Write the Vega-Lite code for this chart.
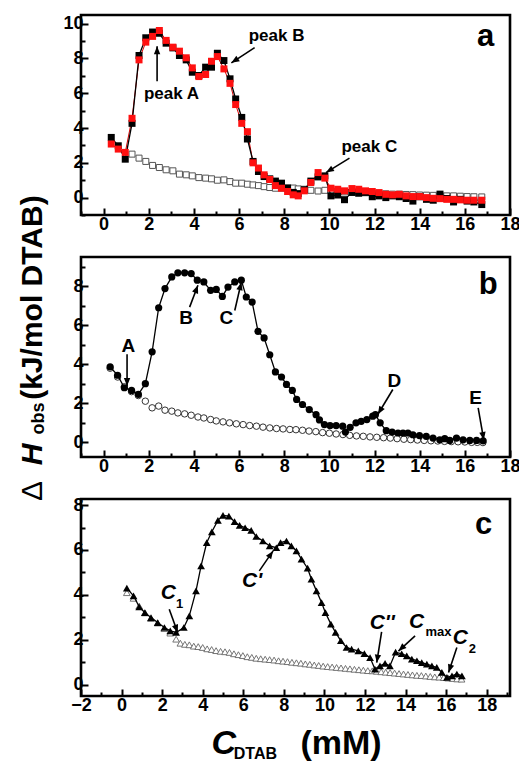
{
  "$schema": "https://vega.github.io/schema/vega-lite/v6.json",
  "padding": {"left": 16, "top": 13, "right": 5, "bottom": 0},
  "spacing": 42,
  "bounds": "flush",
  "config": {
    "view": {"stroke": "black", "strokeWidth": 2.6},
    "font": "Liberation Sans",
    "axis": {"domain": false, "grid": false, "labelFont": "Liberation Sans", "labelFontWeight": "bold", "labelFontSize": 18, "labelColor": "black", "tickColor": "black", "tickWidth": 2, "labelFlush": false, "labelOverlap": false},
    "axisX": {"labelPadding": 7},
    "axisY": {"labelPadding": 5}
  },
  "datasets": {
    "a_black": [{"x":0.34,"y":3.46},{"x":0.65,"y":2.98},{"x":0.96,"y":2.21},{"x":1.26,"y":4.27},{"x":1.57,"y":8.17},{"x":1.87,"y":9.19},{"x":2.17,"y":9.52},{"x":2.47,"y":9.45},{"x":2.77,"y":8.88},{"x":3.07,"y":8.61},{"x":3.36,"y":8.17},{"x":3.66,"y":7.92},{"x":3.93,"y":7.21},{"x":4.22,"y":7.02},{"x":4.52,"y":7.5},{"x":4.78,"y":7.5},{"x":5.04,"y":8.3},{"x":5.33,"y":7.88},{"x":5.6,"y":6.83},{"x":5.85,"y":5.67},{"x":6.12,"y":4.61},{"x":6.37,"y":3.37},{"x":6.62,"y":2.08},{"x":6.86,"y":1.5},{"x":7.11,"y":1.21},{"x":7.36,"y":1.08},{"x":7.61,"y":0.95},{"x":7.88,"y":0.83},{"x":8.15,"y":0.55},{"x":8.4,"y":0.3},{"x":8.62,"y":0.23},{"x":8.89,"y":0.45},{"x":9.18,"y":0.95},{"x":9.5,"y":1.19},{"x":9.8,"y":1.25},{"x":10.07,"y":0.1},{"x":10.37,"y":0.15},{"x":10.67,"y":-0.12},{"x":11.0,"y":0.3},{"x":11.3,"y":0.25},{"x":11.6,"y":0.3},{"x":11.9,"y":0.05},{"x":12.2,"y":0.1},{"x":12.5,"y":0.0},{"x":12.8,"y":0.1},{"x":13.1,"y":0.05},{"x":13.4,"y":-0.05},{"x":13.7,"y":-0.2},{"x":14.0,"y":0.05},{"x":14.3,"y":-0.1},{"x":14.6,"y":-0.15},{"x":14.9,"y":0.2},{"x":15.2,"y":-0.05},{"x":15.5,"y":-0.25},{"x":15.8,"y":-0.1},{"x":16.1,"y":-0.2},{"x":16.4,"y":-0.25},{"x":16.75,"y":-0.4}],
    "a_red": [{"x":0.34,"y":3.08},{"x":0.65,"y":2.79},{"x":0.96,"y":2.6},{"x":1.26,"y":4.56},{"x":1.57,"y":7.92},{"x":1.87,"y":8.94},{"x":2.17,"y":9.27},{"x":2.47,"y":9.61},{"x":2.77,"y":9.04},{"x":3.07,"y":8.65},{"x":3.36,"y":8.42},{"x":3.66,"y":8.04},{"x":3.93,"y":7.46},{"x":4.22,"y":6.96},{"x":4.52,"y":7.08},{"x":4.78,"y":7.84},{"x":5.04,"y":8.11},{"x":5.33,"y":7.4},{"x":5.6,"y":6.57},{"x":5.85,"y":5.35},{"x":6.12,"y":4.27},{"x":6.37,"y":3.79},{"x":6.62,"y":2.0},{"x":6.86,"y":1.7},{"x":7.11,"y":1.31},{"x":7.36,"y":1.04},{"x":7.61,"y":0.69},{"x":7.88,"y":0.54},{"x":8.15,"y":0.35},{"x":8.4,"y":0.16},{"x":8.62,"y":0.1},{"x":8.89,"y":0.39},{"x":9.18,"y":0.87},{"x":9.5,"y":1.44},{"x":9.8,"y":1.12},{"x":10.07,"y":0.54},{"x":10.37,"y":0.48},{"x":10.67,"y":0.39},{"x":11.0,"y":0.52},{"x":11.3,"y":0.48},{"x":11.6,"y":0.39},{"x":11.9,"y":0.35},{"x":12.2,"y":0.29},{"x":12.5,"y":0.19},{"x":12.8,"y":0.16},{"x":13.1,"y":0.19},{"x":13.4,"y":0.1},{"x":13.7,"y":0.06},{"x":14.0,"y":0.06},{"x":14.3,"y":0.0},{"x":14.6,"y":-0.04},{"x":14.9,"y":-0.06},{"x":15.2,"y":-0.1},{"x":15.5,"y":-0.1},{"x":15.8,"y":-0.13},{"x":16.1,"y":-0.15},{"x":16.4,"y":-0.15},{"x":16.75,"y":-0.15}],
    "a_open": [{"x":1.26,"y":2.5},{"x":1.57,"y":2.27},{"x":1.87,"y":2.08},{"x":2.17,"y":1.85},{"x":2.47,"y":1.73},{"x":2.77,"y":1.6},{"x":3.07,"y":1.54},{"x":3.36,"y":1.35},{"x":3.66,"y":1.31},{"x":3.93,"y":1.25},{"x":4.22,"y":1.15},{"x":4.52,"y":1.12},{"x":4.78,"y":1.08},{"x":5.04,"y":1.0},{"x":5.33,"y":1.02},{"x":5.6,"y":0.92},{"x":5.85,"y":0.83},{"x":6.12,"y":0.83},{"x":6.37,"y":0.77},{"x":6.62,"y":0.73},{"x":6.86,"y":0.69},{"x":7.11,"y":0.63},{"x":7.36,"y":0.58},{"x":7.61,"y":0.54},{"x":7.88,"y":0.54},{"x":8.15,"y":0.55},{"x":8.4,"y":0.55},{"x":8.62,"y":0.5},{"x":8.89,"y":0.48},{"x":9.18,"y":0.42},{"x":9.5,"y":0.38},{"x":9.8,"y":0.42},{"x":10.07,"y":0.4},{"x":10.37,"y":0.35},{"x":10.67,"y":0.33},{"x":11.0,"y":0.3},{"x":11.3,"y":0.3},{"x":11.6,"y":0.28},{"x":11.9,"y":0.26},{"x":12.2,"y":0.24},{"x":12.5,"y":0.22},{"x":12.8,"y":0.2},{"x":13.1,"y":0.2},{"x":13.4,"y":0.18},{"x":13.7,"y":0.17},{"x":14.0,"y":0.15},{"x":14.3,"y":0.14},{"x":14.6,"y":0.13},{"x":14.9,"y":0.12},{"x":15.2,"y":0.1},{"x":15.5,"y":0.1},{"x":15.8,"y":0.08},{"x":16.1,"y":0.06},{"x":16.4,"y":0.05},{"x":16.75,"y":0.04}],
    "a_arrows": [{"x":2.37,"y":6.69,"x2":2.37,"y2":8.71},{"x":6.69,"y":8.62,"x2":5.66,"y2":7.75},{"x":10.89,"y":2.27,"x2":9.85,"y2":1.44}],
    "a_text": [{"x":3.01,"y":5.95,"t":"peak A"},{"x":7.66,"y":9.3,"t":"peak B"},{"x":11.77,"y":2.9,"t":"peak C"}],
    "a_letter": [{"x":16.92,"y":9.24,"t":"a"}],
    "b_filled": [{"x":0.29,"y":3.87},{"x":0.62,"y":3.44},{"x":0.92,"y":2.8},{"x":1.24,"y":2.66},{"x":1.54,"y":2.46},{"x":1.85,"y":3.01},{"x":2.15,"y":4.64},{"x":2.44,"y":6.9},{"x":2.72,"y":7.88},{"x":3.02,"y":8.48},{"x":3.29,"y":8.69},{"x":3.59,"y":8.69},{"x":3.88,"y":8.65},{"x":4.15,"y":8.31},{"x":4.44,"y":8.22},{"x":4.74,"y":7.79},{"x":4.99,"y":7.84},{"x":5.26,"y":7.48},{"x":5.51,"y":7.96},{"x":5.81,"y":8.22},{"x":6.1,"y":8.31},{"x":6.32,"y":7.45},{"x":6.58,"y":7.19},{"x":6.84,"y":5.69},{"x":7.11,"y":5.35},{"x":7.36,"y":4.49},{"x":7.61,"y":3.61},{"x":7.88,"y":3.35},{"x":8.1,"y":2.97},{"x":8.36,"y":2.66},{"x":8.55,"y":2.2},{"x":8.81,"y":1.94},{"x":9.11,"y":1.68},{"x":9.41,"y":1.42},{"x":9.56,"y":1.15},{"x":9.78,"y":0.91},{"x":10.03,"y":0.86},{"x":10.3,"y":0.86},{"x":10.59,"y":0.83},{"x":10.71,"y":0.53},{"x":10.92,"y":0.77},{"x":11.18,"y":1.0},{"x":11.41,"y":1.08},{"x":11.66,"y":1.17},{"x":11.92,"y":1.34},{"x":12.04,"y":1.42},{"x":12.25,"y":1.0},{"x":12.52,"y":0.6},{"x":12.78,"y":0.53},{"x":13.04,"y":0.48},{"x":13.26,"y":0.48},{"x":13.48,"y":0.48},{"x":13.7,"y":0.39},{"x":13.99,"y":0.35},{"x":14.29,"y":0.31},{"x":14.59,"y":0.22},{"x":14.89,"y":0.13},{"x":15.11,"y":0.19},{"x":15.33,"y":0.1},{"x":15.63,"y":0.22},{"x":15.92,"y":0.13},{"x":16.22,"y":0.1},{"x":16.52,"y":0.1},{"x":16.81,"y":0.08}],
    "b_open": [{"x":0.29,"y":3.8},{"x":0.62,"y":3.35},{"x":0.92,"y":2.85},{"x":1.24,"y":2.6},{"x":1.54,"y":2.4},{"x":1.85,"y":2.11},{"x":2.15,"y":1.77},{"x":2.44,"y":1.86},{"x":2.72,"y":1.65},{"x":3.02,"y":1.6},{"x":3.29,"y":1.51},{"x":3.59,"y":1.46},{"x":3.88,"y":1.39},{"x":4.18,"y":1.3},{"x":4.44,"y":1.25},{"x":4.74,"y":1.17},{"x":4.99,"y":1.1},{"x":5.29,"y":1.05},{"x":5.58,"y":1.0},{"x":5.88,"y":0.95},{"x":6.18,"y":0.91},{"x":6.47,"y":0.86},{"x":6.77,"y":0.83},{"x":7.06,"y":0.78},{"x":7.36,"y":0.74},{"x":7.66,"y":0.71},{"x":7.95,"y":0.69},{"x":8.25,"y":0.66},{"x":8.52,"y":0.65},{"x":8.81,"y":0.62},{"x":9.1,"y":0.58},{"x":9.4,"y":0.55},{"x":9.7,"y":0.5},{"x":10.0,"y":0.47},{"x":10.3,"y":0.43},{"x":10.6,"y":0.4},{"x":10.9,"y":0.36},{"x":11.2,"y":0.33},{"x":11.5,"y":0.31},{"x":11.8,"y":0.28},{"x":12.1,"y":0.26},{"x":12.4,"y":0.24},{"x":12.7,"y":0.22},{"x":13.0,"y":0.19},{"x":13.3,"y":0.16},{"x":13.6,"y":0.14},{"x":13.9,"y":0.12},{"x":14.2,"y":0.1},{"x":14.5,"y":0.08},{"x":14.8,"y":0.07},{"x":15.1,"y":0.05},{"x":15.4,"y":0.04},{"x":15.7,"y":0.03},{"x":16.0,"y":0.02},{"x":16.3,"y":0.0},{"x":16.55,"y":0.0},{"x":16.8,"y":-0.01}],
    "b_arrows": [{"x":1.04,"y":4.52,"x2":1.04,"y2":2.89},{"x":3.81,"y":6.93,"x2":4.18,"y2":8.05},{"x":5.81,"y":6.76,"x2":6.1,"y2":8.21},{"x":12.81,"y":2.71,"x2":12.15,"y2":1.44},{"x":16.59,"y":1.77,"x2":16.84,"y2":0.12}],
    "b_text": [{"x":1.1,"y":4.95,"t":"A"},{"x":3.66,"y":6.39,"t":"B"},{"x":5.44,"y":6.39,"t":"C"},{"x":12.88,"y":3.16,"t":"D"},{"x":16.48,"y":2.29,"t":"E"}],
    "b_letter": [{"x":17.04,"y":8.09,"t":"b"}],
    "ytitle_main": [{"x":-3.13,"y":7.42,"t":"(kJ/mol DTAB)"}],
    "ytitle_h": [{"x":-3.13,"y":-0.62,"t":"H"}],
    "ytitle_delta": [{"x":-3.13,"y":-2.49,"t":"Δ"}],
    "ytitle_sub": [{"x":-2.86,"y":1.22,"t":"obs"}],
    "c_filled": [{"x":0.26,"y":4.3},{"x":0.59,"y":3.96},{"x":0.87,"y":3.47},{"x":1.15,"y":3.21},{"x":1.45,"y":2.99},{"x":1.78,"y":2.77},{"x":2.11,"y":2.55},{"x":2.4,"y":2.4},{"x":2.69,"y":2.33},{"x":3.07,"y":2.55},{"x":3.34,"y":3.07},{"x":3.67,"y":4.18},{"x":3.92,"y":5.29},{"x":4.2,"y":6.33},{"x":4.45,"y":6.81},{"x":4.75,"y":7.32},{"x":5.0,"y":7.54},{"x":5.29,"y":7.51},{"x":5.57,"y":7.26},{"x":5.82,"y":7.1},{"x":6.09,"y":6.99},{"x":6.39,"y":6.87},{"x":6.64,"y":6.6},{"x":6.97,"y":6.4},{"x":7.3,"y":6.18},{"x":7.63,"y":6.1},{"x":7.84,"y":6.33},{"x":8.13,"y":6.4},{"x":8.37,"y":6.18},{"x":8.62,"y":5.96},{"x":8.87,"y":5.59},{"x":9.17,"y":5.19},{"x":9.36,"y":4.7},{"x":9.61,"y":4.18},{"x":9.86,"y":3.66},{"x":10.05,"y":3.21},{"x":10.32,"y":2.7},{"x":10.55,"y":2.33},{"x":10.81,"y":1.96},{"x":11.09,"y":1.66},{"x":11.34,"y":1.59},{"x":11.67,"y":1.51},{"x":11.97,"y":1.39},{"x":12.25,"y":1.21},{"x":12.49,"y":0.7},{"x":12.74,"y":0.84},{"x":12.99,"y":0.95},{"x":13.23,"y":0.84},{"x":13.51,"y":1.45},{"x":13.81,"y":1.38},{"x":14.06,"y":1.29},{"x":14.31,"y":1.14},{"x":14.56,"y":1.07},{"x":14.8,"y":0.99},{"x":15.05,"y":0.92},{"x":15.3,"y":0.84},{"x":15.54,"y":0.77},{"x":15.79,"y":0.55},{"x":16.04,"y":0.33},{"x":16.29,"y":0.4},{"x":16.53,"y":0.48},{"x":16.78,"y":0.4}],
    "c_open": [{"x":0.26,"y":4.1},{"x":0.59,"y":3.85},{"x":0.87,"y":3.5},{"x":1.15,"y":3.2},{"x":1.45,"y":2.95},{"x":1.78,"y":2.75},{"x":2.11,"y":2.5},{"x":2.4,"y":2.3},{"x":2.69,"y":2.03},{"x":2.9,"y":1.85},{"x":3.12,"y":1.8},{"x":3.34,"y":1.78},{"x":3.56,"y":1.72},{"x":3.78,"y":1.7},{"x":4.0,"y":1.66},{"x":4.22,"y":1.6},{"x":4.44,"y":1.57},{"x":4.66,"y":1.52},{"x":4.88,"y":1.49},{"x":5.1,"y":1.47},{"x":5.32,"y":1.44},{"x":5.54,"y":1.38},{"x":5.76,"y":1.34},{"x":5.98,"y":1.3},{"x":6.2,"y":1.25},{"x":6.42,"y":1.22},{"x":6.64,"y":1.18},{"x":6.86,"y":1.16},{"x":7.08,"y":1.14},{"x":7.3,"y":1.12},{"x":7.52,"y":1.1},{"x":7.74,"y":1.07},{"x":7.96,"y":1.05},{"x":8.18,"y":1.03},{"x":8.4,"y":1.0},{"x":8.62,"y":0.98},{"x":8.84,"y":0.96},{"x":9.06,"y":0.93},{"x":9.28,"y":0.91},{"x":9.5,"y":0.88},{"x":9.72,"y":0.86},{"x":9.94,"y":0.83},{"x":10.16,"y":0.81},{"x":10.38,"y":0.79},{"x":10.6,"y":0.77},{"x":10.82,"y":0.75},{"x":11.04,"y":0.73},{"x":11.26,"y":0.71},{"x":11.48,"y":0.69},{"x":11.7,"y":0.67},{"x":11.92,"y":0.65},{"x":12.14,"y":0.63},{"x":12.36,"y":0.62},{"x":12.58,"y":0.6},{"x":12.8,"y":0.58},{"x":13.02,"y":0.56},{"x":13.24,"y":0.54},{"x":13.46,"y":0.52},{"x":13.68,"y":0.5},{"x":13.9,"y":0.48},{"x":14.12,"y":0.46},{"x":14.34,"y":0.44},{"x":14.56,"y":0.42},{"x":14.78,"y":0.41},{"x":15.0,"y":0.39},{"x":15.22,"y":0.37},{"x":15.44,"y":0.35},{"x":15.66,"y":0.34},{"x":15.88,"y":0.32},{"x":16.1,"y":0.3},{"x":16.32,"y":0.28},{"x":16.54,"y":0.26},{"x":16.76,"y":0.25}],
    "c_arrows": [{"x":2.35,"y":3.36,"x2":2.77,"y2":2.32},{"x":6.79,"y":5.07,"x2":7.47,"y2":5.96},{"x":12.82,"y":2.36,"x2":12.58,"y2":0.99},{"x":14.47,"y":2.18,"x2":13.65,"y2":1.5},{"x":16.53,"y":1.66,"x2":16.12,"y2":0.55}],
    "c_main": [{"x":2.31,"y":4.07,"t":"C"},{"x":6.44,"y":4.62,"t":"C'"},{"x":12.85,"y":2.73,"t":"C''"},{"x":14.55,"y":2.8,"t":"C"},{"x":16.7,"y":2.07,"t":"C"}],
    "c_sub": [{"x":2.86,"y":3.58,"t":"1"},{"x":15.62,"y":2.34,"t":"max"},{"x":17.3,"y":1.6,"t":"2"}],
    "c_letter": [{"x":17.85,"y":7.13,"t":"c"}],
    "xtitle_c": [{"x":5.04,"y":-2.65,"t":"C"}],
    "xtitle_sub": [{"x":6.6,"y":-3.08,"t":"DTAB"}],
    "xtitle_unit": [{"x":10.82,"y":-2.64,"t":"(mM)"}]
  },
  "vconcat": [
    {
      "width": 429,
      "height": 200,
      "encoding": {
        "x": {"field": "x", "type": "quantitative", "scale": {"domain": [-1, 18], "nice": false, "zero": false},
              "axis": {"title": null, "values": [-1,0,1,2,3,4,5,6,7,8,9,10,11,12,13,14,15,16,17,18], "tickSize": {"condition": {"test": "datum.value % 2 === 0", "value": -7}, "value": -4}, "labelExpr": "datum.value % 2 === 0 ? datum.label : ''"}},
        "y": {"field": "y", "type": "quantitative", "scale": {"domain": [-1, 10.5], "nice": false, "zero": false},
              "axis": {"title": null, "values": [-1,0,1,2,3,4,5,6,7,8,9,10], "tickSize": {"condition": {"test": "datum.value % 2 === 0", "value": -7}, "value": -4}, "labelExpr": "datum.value % 2 === 0 ? datum.label : ''"}}
      },
      "layer": [
        {"data": {"name": "a_open"}, "mark": {"type": "point", "shape": "square", "filled": true, "fill": "white", "stroke": "#555", "strokeWidth": 1, "size": 36, "opacity": 1}},
        {"data": {"name": "a_red"}, "mark": {"type": "line", "color": "#d00", "strokeWidth": 1}},
        {"data": {"name": "a_black"}, "mark": {"type": "line", "color": "black", "strokeWidth": 1.3}},
        {"data": {"name": "a_black"}, "mark": {"type": "point", "shape": "square", "filled": true, "color": "black", "size": 49, "opacity": 1}},
        {"data": {"name": "a_red"}, "mark": {"type": "point", "shape": "square", "filled": true, "color": "#ff1010", "size": 49, "opacity": 1}},
        {"data": {"name": "a_arrows"}, "mark": {"type": "rule", "color": "black", "strokeWidth": 1.6}, "encoding": {"x2": {"field": "x2"}, "y2": {"field": "y2"}}},
        {"data": {"name": "a_arrows"}, "transform": [{"calculate": "atan2((datum.x2-datum.x)*22.58,(datum.y2-datum.y)*17.39)*180/PI", "as": "ang"}],
         "mark": {"type": "point", "shape": "M0,0L-0.4,1L0.4,1Z", "filled": true, "color": "black", "size": 256, "opacity": 1},
         "encoding": {"x": {"field": "x2", "type": "quantitative"}, "y": {"field": "y2", "type": "quantitative"}, "angle": {"field": "ang", "type": "quantitative", "scale": null}}},
        {"data": {"name": "a_text"}, "mark": {"type": "text", "font": "Liberation Sans", "fontWeight": "bold", "fontSize": 17, "color": "black"}, "encoding": {"text": {"field": "t"}}},
        {"data": {"name": "a_letter"}, "mark": {"type": "text", "font": "Liberation Sans", "fontWeight": "bold", "fontSize": 31, "color": "black"}, "encoding": {"text": {"field": "t"}}}
      ]
    },
    {
      "width": 429,
      "height": 200,
      "encoding": {
        "x": {"field": "x", "type": "quantitative", "scale": {"domain": [-1, 18], "nice": false, "zero": false},
              "axis": {"title": null, "values": [-1,0,1,2,3,4,5,6,7,8,9,10,11,12,13,14,15,16,17,18], "tickSize": {"condition": {"test": "datum.value % 2 === 0", "value": -7}, "value": -4}, "labelExpr": "datum.value % 2 === 0 ? datum.label : ''"}},
        "y": {"field": "y", "type": "quantitative", "scale": {"domain": [-0.75, 9.5], "nice": false, "zero": false},
              "axis": {"title": null, "values": [0,1,2,3,4,5,6,7,8,9], "tickSize": {"condition": {"test": "datum.value % 2 === 0", "value": -7}, "value": -4}, "labelExpr": "datum.value % 2 === 0 ? datum.label : ''"}}
      },
      "layer": [
        {"data": {"name": "b_open"}, "mark": {"type": "point", "shape": "circle", "filled": true, "fill": "white", "stroke": "#333", "strokeWidth": 1, "size": 42, "opacity": 1}},
        {"data": {"name": "b_filled"}, "mark": {"type": "line", "color": "black", "strokeWidth": 1.3}},
        {"data": {"name": "b_filled"}, "mark": {"type": "point", "shape": "circle", "filled": true, "color": "black", "size": 52, "opacity": 1}},
        {"data": {"name": "b_arrows"}, "mark": {"type": "rule", "color": "black", "strokeWidth": 1.6}, "encoding": {"x2": {"field": "x2"}, "y2": {"field": "y2"}}},
        {"data": {"name": "b_arrows"}, "transform": [{"calculate": "atan2((datum.x2-datum.x)*22.58,(datum.y2-datum.y)*19.51)*180/PI", "as": "ang"}],
         "mark": {"type": "point", "shape": "M0,0L-0.4,1L0.4,1Z", "filled": true, "color": "black", "size": 256, "opacity": 1},
         "encoding": {"x": {"field": "x2", "type": "quantitative"}, "y": {"field": "y2", "type": "quantitative"}, "angle": {"field": "ang", "type": "quantitative", "scale": null}}},
        {"data": {"name": "b_text"}, "mark": {"type": "text", "font": "Liberation Sans", "fontWeight": "bold", "fontSize": 19, "color": "black"}, "encoding": {"text": {"field": "t"}}},
        {"data": {"name": "b_letter"}, "mark": {"type": "text", "font": "Liberation Sans", "fontWeight": "bold", "fontSize": 31, "color": "black"}, "encoding": {"text": {"field": "t"}}},
        {"data": {"name": "ytitle_main"}, "mark": {"type": "text", "font": "Liberation Sans", "fontWeight": "bold", "fontSize": 30, "angle": 270, "color": "black"}, "encoding": {"text": {"field": "t"}}},
        {"data": {"name": "ytitle_h"}, "mark": {"type": "text", "font": "Liberation Sans", "fontWeight": "bold", "fontStyle": "italic", "fontSize": 30, "angle": 270, "color": "black"}, "encoding": {"text": {"field": "t"}}},
        {"data": {"name": "ytitle_delta"}, "mark": {"type": "text", "font": "Liberation Sans", "fontSize": 30, "angle": 270, "color": "black"}, "encoding": {"text": {"field": "t"}}},
        {"data": {"name": "ytitle_sub"}, "mark": {"type": "text", "font": "Liberation Sans", "fontWeight": "bold", "fontSize": 18, "angle": 270, "color": "black"}, "encoding": {"text": {"field": "t"}}}
      ]
    },
    {
      "width": 429,
      "height": 197,
      "encoding": {
        "x": {"field": "x", "type": "quantitative", "scale": {"domain": [-2, 19.15], "nice": false, "zero": false},
              "axis": {"title": null, "values": [-2,-1,0,1,2,3,4,5,6,7,8,9,10,11,12,13,14,15,16,17,18,19], "tickSize": {"condition": {"test": "datum.value % 2 === 0", "value": -7}, "value": -4}, "labelExpr": "datum.value % 2 === 0 ? datum.label : ''"}},
        "y": {"field": "y", "type": "quantitative", "scale": {"domain": [-0.5, 8.27], "nice": false, "zero": false},
              "axis": {"title": null, "values": [0,1,2,3,4,5,6,7,8], "tickSize": {"condition": {"test": "datum.value % 2 === 0", "value": -7}, "value": -4}, "labelExpr": "datum.value % 2 === 0 ? datum.label : ''"}}
      },
      "layer": [
        {"data": {"name": "c_open"}, "mark": {"type": "point", "shape": "triangle-up", "filled": true, "fill": "white", "stroke": "#666", "strokeWidth": 0.9, "size": 45, "opacity": 1}},
        {"data": {"name": "c_filled"}, "mark": {"type": "line", "color": "black", "strokeWidth": 1.3}},
        {"data": {"name": "c_filled"}, "mark": {"type": "point", "shape": "triangle-up", "filled": true, "color": "black", "size": 60, "opacity": 1}},
        {"data": {"name": "c_arrows"}, "mark": {"type": "rule", "color": "black", "strokeWidth": 1.6}, "encoding": {"x2": {"field": "x2"}, "y2": {"field": "y2"}}},
        {"data": {"name": "c_arrows"}, "transform": [{"calculate": "atan2((datum.x2-datum.x)*20.28,(datum.y2-datum.y)*22.46)*180/PI", "as": "ang"}],
         "mark": {"type": "point", "shape": "M0,0L-0.4,1L0.4,1Z", "filled": true, "color": "black", "size": 256, "opacity": 1},
         "encoding": {"x": {"field": "x2", "type": "quantitative"}, "y": {"field": "y2", "type": "quantitative"}, "angle": {"field": "ang", "type": "quantitative", "scale": null}}},
        {"data": {"name": "c_main"}, "mark": {"type": "text", "font": "Liberation Sans", "fontWeight": "bold", "fontStyle": "italic", "fontSize": 21, "color": "black"}, "encoding": {"text": {"field": "t"}}},
        {"data": {"name": "c_sub"}, "mark": {"type": "text", "font": "Liberation Sans", "fontWeight": "bold", "fontSize": 13, "color": "black"}, "encoding": {"text": {"field": "t"}}},
        {"data": {"name": "c_letter"}, "mark": {"type": "text", "font": "Liberation Sans", "fontWeight": "bold", "fontSize": 31, "color": "black"}, "encoding": {"text": {"field": "t"}}},
        {"data": {"name": "xtitle_c"}, "mark": {"type": "text", "font": "Liberation Sans", "fontWeight": "bold", "fontStyle": "italic", "fontSize": 34, "color": "black"}, "encoding": {"text": {"field": "t"}}},
        {"data": {"name": "xtitle_sub"}, "mark": {"type": "text", "font": "Liberation Sans", "fontWeight": "bold", "fontSize": 16, "color": "black"}, "encoding": {"text": {"field": "t"}}},
        {"data": {"name": "xtitle_unit"}, "mark": {"type": "text", "font": "Liberation Sans", "fontWeight": "bold", "fontSize": 34, "color": "black"}, "encoding": {"text": {"field": "t"}}}
      ]
    }
  ]
}
